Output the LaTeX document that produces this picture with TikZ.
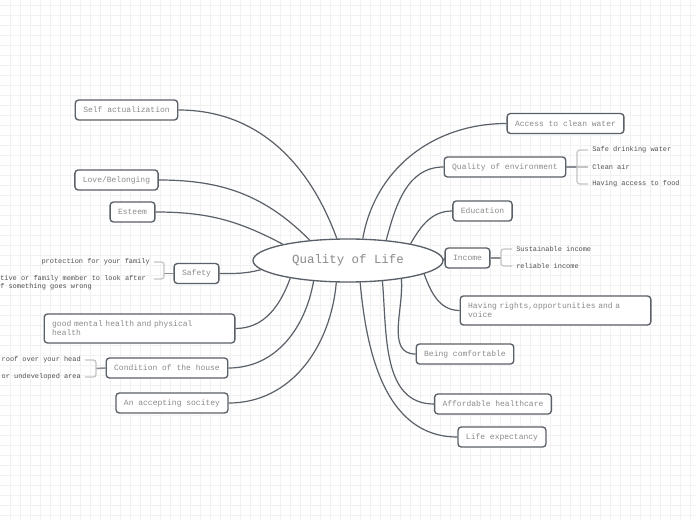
\documentclass[tikz,border=0pt]{standalone}
\usepackage{fontspec}
\setmonofont{Liberation Mono}[WordSpace={1,0,0}]
\usetikzlibrary{shapes.geometric}

\definecolor{boxline}{HTML}{5A6068}
\definecolor{boxtext}{HTML}{8A8A8A}
\definecolor{leaftext}{HTML}{505050}
\definecolor{bracketgray}{HTML}{C4C4C4}
\definecolor{stemgray}{HTML}{8A8E94}
\definecolor{gridgray}{HTML}{F1F1F1}

\begin{document}
\begin{tikzpicture}[
  x=0.75pt, y=-0.75pt,
  topic/.style={draw=boxline, line width=1pt, rounded corners=2.5pt, fill=white, text=boxtext, font=\ttfamily\fontsize{6}{6.75}\selectfont, inner xsep=6pt, minimum height=15pt},
  widetopic/.style={topic, text width=131pt, align=left, minimum height=21.75pt},
  central/.style={ellipse, draw=boxline, line width=1pt, fill=white, text=boxtext, font=\ttfamily\fontsize{9.3}{11}\selectfont, minimum width=142.5pt, minimum height=32.25pt, inner sep=0pt},
  leaf/.style={text=leaftext, font=\ttfamily\fontsize{5.2}{6}\selectfont, inner xsep=3pt, inner ysep=1pt, align=left},
  branch/.style={draw=boxline, line width=0.9pt},
  stem/.style={draw=stemgray, line width=1.2pt},
  bracket/.style={draw=bracketgray, line width=0.9pt, rounded corners=2pt},
  gridline/.style={draw=gridgray, line width=0.6pt}
]
  \fill[white] (0,0) rectangle (696,520);
  \useasboundingbox (0,0) rectangle (696,520);
  \foreach \gx in {10,20,...,690} \draw[gridline] (\gx,0) -- (\gx,520);
  \foreach \gy in {5,15,...,515} \draw[gridline] (0,\gy) -- (696,\gy);

  % central topic
  \node[central] (qol) at (348,260.5) {Quality of Life};

  % left side
  \node[topic] (selfact) at (126.5,110) {Self actualization};
  \node[topic] (love) at (116.5,180) {Love/Belonging};
  \node[topic] (esteem) at (132.5,212) {Esteem};
  \node[topic] (safety) at (196.5,273.5) {Safety};
  \node[widetopic] (health) at (139.5,328.5) {good mental health and physical\\health};
  \node[topic] (house) at (167,368) {Condition of the house};
  \node[topic] (society) at (172,403) {An accepting socitey};

  % right side
  \node[topic] (water) at (565.5,123.5) {Access to clean water};
  \node[topic] (environment) at (505,167) {Quality of environment};
  \node[topic] (education) at (482.5,211) {Education};
  \node[topic] (income) at (467.5,258) {Income};
  \node[widetopic] (rights) at (555.5,310.5) {Having rights,opportunities and a\\voice};
  \node[topic] (comfort) at (465,354) {Being comfortable};
  \node[topic] (healthcare) at (493,404) {Affordable healthcare};
  \node[topic] (lifeexp) at (502,437) {Life expectancy};

  % sub topics
  \node[leaf, anchor=west] (drinking) at (588,150) {Safe drinking water};
  \node[leaf, anchor=west] (air) at (588,167) {Clean air};
  \node[leaf, anchor=west] (food) at (588,184) {Having access to food};
  \node[leaf, anchor=west] (sustainable) at (512,249) {Sustainable income};
  \node[leaf, anchor=west] (reliable) at (512,266) {reliable income};
  \node[leaf, anchor=east] (protection) at (154,262) {protection for your family};
  \node[leaf, anchor=west, inner xsep=0pt] (relative) at (0,283) {tive or family member to look after\\f something goes wrong};
  \node[leaf, anchor=east] (roof) at (85,360) {roof over your head};
  \node[leaf, anchor=east] (slums) at (85,377) {or undeveloped area};

  \coordinate (envfork) at (577,167);
  \coordinate (incomefork) at (501,258);
  \coordinate (safetyfork) at (164,273.5);
  \coordinate (relativetip) at (154,279);
  \coordinate (housefork) at (96,368.5);

  % branches
  \draw[branch] (selfact.east) to[out=0, in=110] (qol.117);
  \draw[branch] (love.east) to[out=0, in=135] (qol.152.6);
  \draw[branch] (esteem.east) to[out=0, in=152] (qol.166.4);
  \draw[branch] (safety.east) to[out=0, in=195] (qol.186);
  \draw[branch] (health.east) to[out=0, in=250] (qol.197.7);
  \draw[branch] (house.east) to[out=0, in=260] (qol.211.5);
  \draw[branch] (society.east) to[out=0, in=265] (qol.242.8);
  \draw[branch] (water.west) to[out=180, in=80] (qol.56.7);
  \draw[branch] (environment.west) to[out=180, in=75] (qol.28.9);
  \draw[branch] (education.west) to[out=180, in=60] (qol.15.9);
  \draw[branch] (qol.east) -- (income.west);
  \draw[branch] (rights.west) to[out=180, in=290] (qol.350);
  \draw[branch] (comfort.west) to[out=180, in=275] (qol.341.9);
  \draw[branch] (healthcare.west) to[out=180, in=275] (qol.329.4);
  \draw[branch] (lifeexp.west) to[out=180, in=275] (qol.299.4);

  % brackets
  \draw[stem] (environment.east) -- (envfork);
  \draw[bracket] (drinking.west) -| (envfork) |- (food.west);
  \draw[bracket] (envfork) -- (air.west);
  \draw[stem] (income.east) -- (incomefork);
  \draw[bracket] (sustainable.west) -| (incomefork) |- (reliable.west);
  \draw[stem] (safety.west) -- (safetyfork);
  \draw[bracket] (protection.east) -| (safetyfork) |- (relativetip);
  \draw[stem] (house.west) -- (housefork);
  \draw[bracket] (roof.east) -| (housefork) |- (slums.east);
\end{tikzpicture}
\end{document}
